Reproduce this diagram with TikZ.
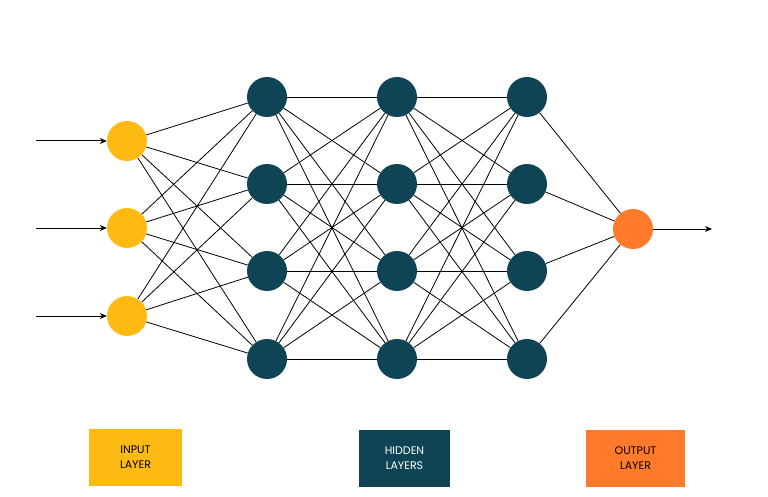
\documentclass[tikz,border=0pt]{standalone}
\usepackage{fontspec}
\setmainfont{Poppins}
\usetikzlibrary{arrows.meta}
\definecolor{yel}{HTML}{FDBA12}
\definecolor{tealc}{HTML}{0E4454}
\definecolor{org}{HTML}{FF7A2B}
\begin{document}
\begin{tikzpicture}[x=1pt,y=-1pt,
 neu/.style={circle,minimum size=40pt,inner sep=0pt},
 inp/.style={neu,fill=yel},hid/.style={neu,fill=tealc},outn/.style={neu,fill=org},
 lab/.style={minimum width=93pt,minimum height=57pt,align=center,font=\fontsize{11}{15}\selectfont},
 edge/.style={line width=0.8pt,black},
 arr/.style={line width=1pt,-{Stealth[length=7pt,width=6pt]}}]
\useasboundingbox (0,0) rectangle (768,497);
\foreach \i/\y in {1/141,2/228,3/316} \node[inp] (i\i) at (127,\y) {};
\foreach \l/\x in {1/267,2/397,3/527}
  \foreach \j/\y in {1/97,2/184,3/271,4/359} \node[hid] (h\l\j) at (\x,\y) {};
\node[outn] (o) at (633,229) {};
\foreach \i in {1,2,3} \foreach \j in {1,...,4} \draw[edge] (i\i) -- (h1\j);
\foreach \a/\b in {1/2,2/3} \foreach \i in {1,...,4} \foreach \j in {1,...,4} \draw[edge] (h\a\i) -- (h\b\j);
\foreach \j in {1,...,4} \draw[edge] (h3\j) -- (o);
\foreach \i/\y in {1/141,2/228,3/316} \coordinate (s\i) at (36,\y);
\foreach \i in {1,2,3} \draw[arr] (s\i) -- (i\i);
\coordinate (e) at (712,229);
\draw[arr] (o) -- (e);
\node[lab,fill=yel] (li) at (135.5,457) {INPUT\\LAYER};
\node[lab,fill=tealc,text=white,minimum width=91pt] (lh) at (404.5,458.5) {HIDDEN\\LAYERS};
\node[lab,fill=org,minimum width=99pt] (lo) at (635.5,458.5) {OUTPUT\\LAYER};
\end{tikzpicture}
\end{document}
